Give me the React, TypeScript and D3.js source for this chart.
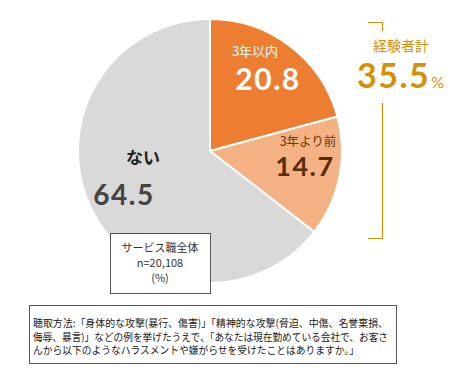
import React from "react";
import * as d3 from "d3";

const categories = ["3年以内", "3年より前", "ない"];
const values = [20.8, 14.7, 64.5];
const colors = ["#ED7D31", "#F4B183", "#D9D9D9"];
const totalLabel = "経験者計";
const totalValue = "35.5";
const boxLines = ["サービス職全体", "n=20,108", "(%)"];
const noteLines = [
  "聴取方法:「身体的な攻撃(暴行、傷害)」「精神的な攻撃(脅迫、中傷、名誉棄損、",
  "侮辱、暴言)」などの例を挙げたうえで、「あなたは現在勤めている会社で、お客さ",
  "んから以下のようなハラスメントや嫌がらせを受けたことはありますか。」",
];

const FONT = "'Noto Sans CJK JP', 'Noto Sans', sans-serif";
const NUM = "Lato, 'Noto Sans', sans-serif";

export default function App() {
  const cx = 210, cy = 151, r = 132;
  const pie = d3.pie<number>().sort(null).value((d) => d)(values);
  const arc = d3.arc<d3.PieArcDatum<number>>().innerRadius(0).outerRadius(r);
  const gold = "#D4900A";
  return (
    <svg width={450} height={384} style={{ position: "absolute", left: 0, top: 0 }} fontFamily={FONT}>
      <rect width={450} height={384} fill="#fff" />
      <g transform={`translate(${cx},${cy})`}>
        {pie.map((p, i) => (
          <path key={i} d={arc(p) || ""} fill={colors[i]} stroke="#fff" strokeWidth={2} strokeLinejoin="miter" />
        ))}
      </g>
      {/* slice labels */}
      <text x={255} y={56} fill="#fff" fontSize={13} textAnchor="middle">{categories[0]}</text>
      <text x={268} y={90} fill="#fff" fontSize={30} fontFamily={NUM} fontWeight={700} textAnchor="middle" letterSpacing={1.5}>{values[0].toFixed(1)}</text>
      <text x={308} y={146} fill="#6B3A10" fontSize={12.5} textAnchor="middle">{categories[1]}</text>
      <text x={305} y={176} fill="#5A2D0C" fontSize={27} fontFamily={NUM} fontWeight={700} textAnchor="middle" letterSpacing={1.5}>{values[1].toFixed(1)}</text>
      <text x={143} y={164} fill="#222" fontSize={17} fontWeight={700} textAnchor="middle">{categories[2]}</text>
      <text x={124} y={205} fill="#444" fontSize={28} fontFamily={NUM} fontWeight={700} textAnchor="middle" letterSpacing={1.5}>{values[2].toFixed(1)}</text>
      {/* n box */}
      <rect x={110.5} y={233.5} width={100} height={60} fill="#fff" stroke="#555" strokeWidth={1} />
      {boxLines.map((t, i) => (
        <text key={i} x={160} y={252 + i * 15} fontSize={11} fill="#333" textAnchor="middle">{t}</text>
      ))}
      {/* bracket */}
      <path d="M368,22.5 H382.5 V31" fill="none" stroke={gold} strokeWidth={1.2} />
      <path d="M382.5,103 V238.5 H368" fill="none" stroke={gold} strokeWidth={1.2} />
      <text x={401} y={51} fill={gold} fontSize={14} textAnchor="middle">{totalLabel}</text>
      <text x={357} y={88} fill={gold} fontSize={34} fontFamily={NUM} fontWeight={700} letterSpacing={1.5}>
        {totalValue}
        <tspan fontSize={16} fontWeight={400} dx={1}>%</tspan>
      </text>
      {/* note box */}
      <rect x={29.5} y={305.5} width={367} height={58} fill="#fff" stroke="#555" strokeWidth={1} />
      {noteLines.map((t, i) => (
        <text key={i} x={33} y={327 + i * 13.5} fontSize={10.5} fill="#222"
          textLength={i < 2 ? 355 : 326} lengthAdjust="spacingAndGlyphs">{t}</text>
      ))}
    </svg>
  );
}
